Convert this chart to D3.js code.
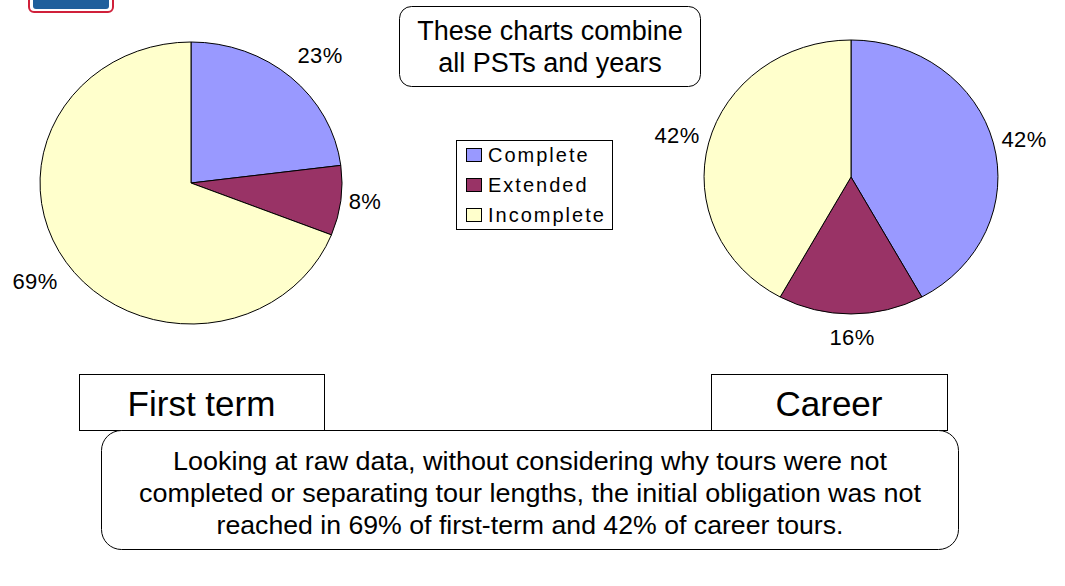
<!DOCTYPE html>
<html>
<head>
<meta charset="utf-8">
<script src="https://cdn.jsdelivr.net/npm/d3@7"></script>
<style>
  body { margin: 0; background: #fff; }
  svg { font-family: "Liberation Sans", Arial, sans-serif; }
</style>
</head>
<body>
<svg width="1065" height="586"></svg>
<script>
var categories = ["Complete", "Extended", "Incomplete"];
var firstTerm = [23, 8, 69];
var career = [42, 16, 42];
var colors = ["#9999FF", "#993366", "#FFFFCC"];

var svg = d3.select("svg");
var color = d3.scaleOrdinal().domain(categories).range(colors);
var pie = d3.pie().sort(null).value(function(d) { return d.value; });
var arc = d3.arc().innerRadius(0).outerRadius(1);

// logo fragment at the top-left corner
svg.append("rect").attr("x", 29).attr("y", -12).attr("width", 84).attr("height", 24)
    .attr("rx", 5).attr("fill", "#fff").attr("stroke", "#d0203a").attr("stroke-width", 2);
svg.append("rect").attr("x", 33).attr("y", -10).attr("width", 76).attr("height", 19)
    .attr("rx", 3).attr("fill", "#1f5f9c");

var drawPie = function(values, cx, cy, rx, ry, labels) {
    var data = categories.map(function(c, i) { return { name: c, value: values[i] }; });
    var g = svg.append("g").attr("transform", "translate(" + cx + "," + cy + ")");
    g.append("g").attr("transform", "scale(" + rx + "," + ry + ")")
        .selectAll("path")
        .data(pie(data))
        .enter()
        .append("path")
        .attr("d", arc)
        .attr("fill", function(d) { return color(d.data.name); })
        .attr("stroke", "#000")
        .attr("stroke-width", 1)
        .attr("vector-effect", "non-scaling-stroke");

    g.selectAll("text")
        .data(pie(data))
        .enter()
        .append("text")
        .attr("x", function(d, i) { return labels[i][0]; })
        .attr("y", function(d, i) { return labels[i][1]; })
        .attr("text-anchor", "middle")
        .attr("font-size", 22)
        .attr("letter-spacing", 0.4)
        .text(function(d) { return d.data.value + "%"; });
};

drawPie(firstTerm, 191, 183, 151, 141, [[129, -120], [174, 26], [-156, 106]]);
drawPie(career, 851, 177, 147, 137, [[173, -30], [1, 168], [-174, -34]]);

// legend
var legend = svg.append("g");
legend.append("rect").attr("x", 456.5).attr("y", 140.5).attr("width", 156).attr("height", 89)
    .attr("fill", "#fff").attr("stroke", "#000");
var items = legend.selectAll("g.item")
    .data(categories)
    .enter()
    .append("g")
    .attr("transform", function(d, i) { return "translate(0," + (i * 30) + ")"; });
items.append("rect")
    .attr("x", 466.5).attr("y", 148.5).attr("width", 15).attr("height", 13)
    .attr("fill", function(d) { return color(d); })
    .attr("stroke", "#000");
items.append("text")
    .attr("x", 488).attr("y", 162)
    .attr("font-size", 20)
    .attr("letter-spacing", 2)
    .text(function(d) { return d; });

// note box at the top
svg.append("rect").attr("x", 399.5).attr("y", 6.5).attr("width", 301).attr("height", 80)
    .attr("rx", 12).attr("fill", "#fff").attr("stroke", "#000");
svg.append("text").attr("x", 550).attr("y", 40).attr("text-anchor", "middle")
    .attr("font-size", 27).text("These charts combine");
svg.append("text").attr("x", 550).attr("y", 72).attr("text-anchor", "middle")
    .attr("font-size", 27).text("all PSTs and years");

// titles
var titleBox = function(x, w, label) {
    svg.append("rect").attr("x", x + 0.5).attr("y", 374.5).attr("width", w).attr("height", 56)
        .attr("fill", "#fff").attr("stroke", "#000");
    svg.append("text").attr("x", x + w / 2).attr("y", 416).attr("text-anchor", "middle")
        .attr("font-size", 35).text(label);
};
titleBox(79, 245, "First term");
titleBox(711, 236, "Career");

// conclusion box
var lines = [
    "Looking at raw data, without considering why tours were not",
    "completed or separating tour lengths, the initial obligation was not",
    "reached in 69% of first-term and 42% of career tours."
];
var lineWidths = [714, 782, 627];
svg.append("rect").attr("x", 101.5).attr("y", 430.5).attr("width", 857).attr("height", 119)
    .attr("rx", 20).attr("fill", "#fff").attr("stroke", "#000");
svg.selectAll("text.line")
    .data(lines)
    .enter()
    .append("text")
    .attr("class", "line")
    .attr("x", 530)
    .attr("y", function(d, i) { return 470 + i * 32; })
    .attr("text-anchor", "middle")
    .attr("font-size", 26)
    .attr("textLength", function(d, i) { return lineWidths[i]; })
    .attr("lengthAdjust", "spacingAndGlyphs")
    .text(function(d) { return d; });
</script>
</body>
</html>
